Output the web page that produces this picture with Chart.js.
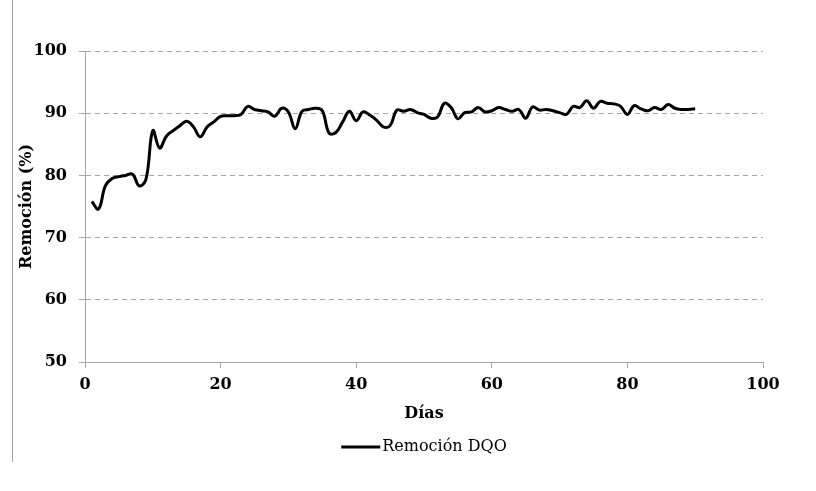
<!DOCTYPE html>
<html>
<head>
<meta charset="utf-8">
<title>Remoción DQO</title>
<script src="https://cdn.jsdelivr.net/npm/chart.js@4.4.1/dist/chart.umd.min.js"></script>
<style>
  html, body { margin: 0; padding: 0; background: #fff; }
  #wrap { position: relative; width: 816px; height: 491px; }
  #frame { position: absolute; left: 12px; top: 0; height: 462px; border-left: 1px solid #a0a0a0; }
  canvas { position: absolute; left: 0; top: 0; }
</style>
</head>
<body>
<div id="wrap">
  <canvas id="dqo-chart" width="816" height="491"></canvas>
  <div id="frame"></div>
</div>
<script>
const days = [
  1, 2, 3, 4, 5, 6, 7, 8, 9, 10,
  11, 12, 13, 14, 15, 16, 17, 18, 19, 20,
  21, 22, 23, 24, 25, 26, 27, 28, 29, 30,
  31, 32, 33, 34, 35, 36, 37, 38, 39, 40,
  41, 42, 43, 44, 45, 46, 47, 48, 49, 50,
  51, 52, 53, 54, 55, 56, 57, 58, 59, 60,
  61, 62, 63, 64, 65, 66, 67, 68, 69, 70,
  71, 72, 73, 74, 75, 76, 77, 78, 79, 80,
  81, 82, 83, 84, 85, 86, 87, 88, 89, 90
];

// % removal, one value per day
const remocionDQO = [
  75.8, 74.6, 78.3, 79.5, 79.8, 80.0, 80.2, 78.3, 79.4, 87.2,
  84.4, 86.3, 87.2, 88.0, 88.7, 87.8, 86.2, 87.8, 88.6, 89.5,
  89.6, 89.6, 89.8, 91.1, 90.6, 90.4, 90.2, 89.5, 90.8, 90.2,
  87.5, 90.3, 90.6, 90.8, 90.4, 86.8, 86.9, 88.6, 90.3, 88.8,
  90.2, 89.7, 88.9, 87.8, 88.0, 90.5, 90.3, 90.6, 90.1, 89.8,
  89.2, 89.4, 91.6, 90.9, 89.1, 90.1, 90.2, 90.9, 90.2, 90.4,
  90.9, 90.6, 90.3, 90.6, 89.2, 91.0, 90.5, 90.6, 90.4, 90.1,
  89.8, 91.1, 90.9, 92.0, 90.8, 91.9, 91.6, 91.5, 91.1, 89.8,
  91.2, 90.7, 90.4, 90.9, 90.6, 91.4, 90.8, 90.6, 90.6, 90.7
];

const xTicks = [0, 20, 40, 60, 80, 100];
const yTicks = [50, 60, 70, 80, 90, 100];

const seriesLabel = 'Remoción DQO';
const xTitle = 'Días';
const yTitle = 'Remoción (%)';

const axisGray = '#a6a6a6';
const serif = "'DejaVu Serif', 'Liberation Serif', serif";

// legend drawn under the x title, centred on the plot area
const bottomLegend = {
  id: 'bottomLegend',
  afterDraw(chart) {
    const ctx = chart.ctx;
    const area = chart.chartArea;
    const ds = chart.data.datasets[0];
    const lineLen = 39;
    const gap = 2;
    ctx.save();
    ctx.font = '16px ' + serif;
    const textW = ctx.measureText(ds.label).width;
    const startX = (area.left + area.right) / 2 - (lineLen + gap + textW) / 2;
    const y = 447;
    ctx.strokeStyle = ds.borderColor;
    ctx.lineWidth = 3;
    ctx.beginPath();
    ctx.moveTo(startX, y);
    ctx.lineTo(startX + lineLen, y);
    ctx.stroke();
    ctx.fillStyle = '#000';
    ctx.textBaseline = 'middle';
    ctx.textAlign = 'left';
    ctx.fillText(ds.label, startX + lineLen + gap, y);
    ctx.restore();
  }
};

const ctx = document.getElementById('dqo-chart').getContext('2d');
const chart = new Chart(ctx, {
  type: 'line',
  data: {
    datasets: [{
      label: seriesLabel,
      data: days.map((d, i) => ({ x: d, y: remocionDQO[i] })),
      borderColor: '#000',
      borderWidth: 3,
      pointRadius: 0,
      tension: 0.4,
      fill: false
    }]
  },
  options: {
    responsive: false,
    animation: false,
    layout: { padding: { top: 51, right: 53, bottom: 0, left: 0 } },
    plugins: {
      legend: { display: false },
      tooltip: { enabled: false }
    },
    scales: {
      x: {
        type: 'linear',
        min: 0,
        max: 100,
        afterFit: scale => { scale.height = 129; },
        afterBuildTicks: scale => { scale.ticks = xTicks.map(v => ({ value: v })); },
        ticks: {
          color: '#000',
          padding: 7,
          font: { family: serif, size: 16, weight: 'bold' }
        },
        grid: {
          drawOnChartArea: false,
          drawTicks: true,
          tickLength: 6,
          tickColor: axisGray,
          tickWidth: 1
        },
        border: { display: true, color: axisGray, width: 1 },
        title: {
          display: true,
          text: xTitle,
          color: '#000',
          padding: { top: 0, bottom: 68 },
          font: { family: serif, size: 16, weight: 'bold' }
        }
      },
      y: {
        min: 50,
        max: 100,
        afterFit: scale => { scale.width = 85; },
        afterBuildTicks: scale => { scale.ticks = yTicks.map(v => ({ value: v })); },
        ticks: {
          color: '#000',
          padding: 12,
          font: { family: serif, size: 16, weight: 'bold' }
        },
        grid: {
          color: axisGray,
          lineWidth: 1,
          tickLength: 6,
          tickColor: axisGray,
          tickBorderDash: [],
          tickWidth: 1
        },
        // in v4 the grid-line dash sits on the border options
        border: { display: true, color: axisGray, width: 1, dash: [5, 4] },
        title: {
          display: true,
          text: yTitle,
          color: '#000',
          padding: { top: 17, bottom: 0 },
          font: { family: serif, size: 16, weight: 'bold' }
        }
      }
    }
  },
  plugins: [bottomLegend]
});
</script>
</body>
</html>
